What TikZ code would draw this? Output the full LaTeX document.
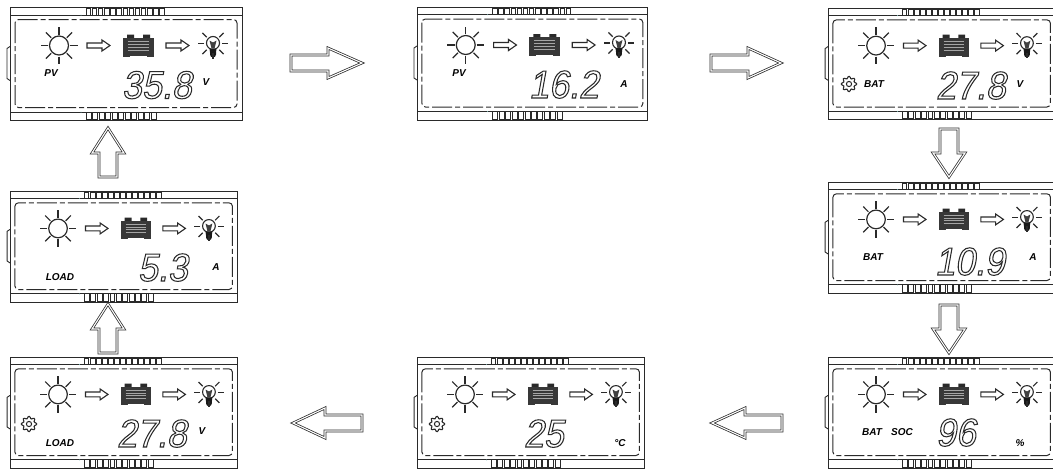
\documentclass[tikz,border=0pt]{standalone}
\usepackage{fontspec}
\setmainfont{Liberation Sans}
\newfontfamily\segfont[FakeSlant=0.18,FakeStretch=0.92]{Liberation Sans}
\definecolor{ink}{HTML}{2A2A2A}
\tikzset{
  inkline/.style={draw=ink,line width=0.9pt},
  bezel/.style={draw=ink,line width=1pt,rounded corners=3.5pt,dash pattern=on 20pt off 3pt on 5pt off 3pt},
  lab/.style={inner sep=0pt,text=black,font=\fontsize{10}{10}\selectfont\bfseries\itshape},
  digit/.style={inner sep=0pt,anchor=base east,text=ink},
  bigarrow/.style={draw=ink,line width=0.75pt,double=white,double distance=1.1pt,miter limit=10}
}
\newcommand{\outl}[1]{\special{pdf:code 1 Tr 1.05 w}{\fontsize{39}{40}\selectfont\segfont #1}\special{pdf:code 0 Tr 1 w}}
\newcommand{\lcd}[6]{%
 \begin{scope}[shift={(#2,#3)}]
 \begin{scope}[xscale=#4,yscale=#5]
  \draw[inkline] (0,0) rectangle (232,113);
  \draw[inkline] (0,7.7) -- (232,7.7) (0,104.5) -- (232,104.5);
  \draw[inkline] (0,39) -- (-3,41) -- (-3,71) -- (0,73);
  \draw[bezel] (5,12) rectangle (227,100);
  \foreach \i in {0,...,12}{\draw[inkline,line width=0.8pt] ({76+6.15*\i},7.7) -- ({76+6.15*\i},1) -- ({80.5+6.15*\i},1) -- ({80.5+6.15*\i},7.7);}
  \foreach \i in {0,...,10}{\draw[inkline,line width=0.8pt] ({76+6.5*\i},104.5) -- ({76+6.5*\i},112) -- ({81+6.5*\i},112) -- ({81+6.5*\i},104.5);}
  % sun
  \draw[ink,line width=1.2pt] (49,38) circle [radius=9.5];
  \foreach \a in {0,45,...,315}{\draw[ink,line width=1.2pt] (49,38) ++(\a:11) -- ++(\a:7.5);}
  % flow arrows
  \draw[ink,line width=1.1pt,fill=white] (77,35.5) -- (92,35.5) -- (92,32.5) -- (100,38) -- (92,43.5) -- (92,40.5) -- (77,40.5) -- cycle;
  \draw[ink,line width=1.1pt,fill=white] (156,35.5) -- (171,35.5) -- (171,32.5) -- (179,38) -- (171,43.5) -- (171,40.5) -- (156,40.5) -- cycle;
  % battery
  \fill[ink] (117,27) rectangle (124,31) (133,27) rectangle (140,31);
  \fill[black!78] (113,30) rectangle (144,49);
  \foreach \v in {33.5,36.5,39.5,42.5}{\draw[black!35,line width=0.9pt] (118,\v) -- (139,\v);}
  \draw[white,line width=1pt] (120,48.7) -- (137,48.7);
  % bulb
  \draw[ink,line width=1.1pt] (203,35.5) circle [radius=6.5];
  \fill[black!90] (199.5,41) -- (206.5,41) -- (206,45) -- (206,47) arc [start angle=0,end angle=180,radius=3] -- (200,45) -- cycle;
  \fill[black!75] (199.5,33) -- (203,35) -- (206.5,33) -- (204.5,41) -- (201.5,41) -- cycle;
  \foreach \a in {0,45,90,135,180,225,315}{\draw[ink,line width=1.2pt] (203,36) ++(\a:9) -- ++(\a:6);}
  \fill[teal!50] (71,7.7) circle [radius=0.5] (71,104.5) circle [radius=0.5];
 \end{scope}
 #6
 \end{scope}}
\newcommand{\gear}[2]{%
 \draw[ink,line width=1.1pt] plot[domain=0:352,samples=45,smooth cycle] ({#1+(6.6+1.1*cos(8*\x))*cos(\x)},{#2+(6.6+1.1*cos(8*\x))*sin(\x)});
 \draw[ink,line width=1pt] (#1,#2) circle [radius=2.6];}
\newcommand{\blockarrow}[7]{% x y rot len head shaft halfhead
 \begin{scope}[shift={(#1,#2)},rotate=#3]
  \draw[bigarrow] (0,-#6) -- (#5,-#6) -- (#5,-#7) -- (#4,0) -- (#5,#7) -- (#5,#6) -- (0,#6) -- cycle;
 \end{scope}}
\begin{document}
\begin{tikzpicture}[x=1pt,y=-1pt]
\useasboundingbox (0,0) rectangle (1053,469);
\clip (0,0) rectangle (1053,469);
\fill[white] (0,0) rectangle (1053,469);
% panels
\lcd{a}{10}{7.5}{1}{1}{%
  \node[lab] (a1) at (41,66) {PV};
  \node[lab] (a2) at (196,75) {V};
  \node[digit] (a3) at (182,91) {\outl{35.8}};}
\lcd{b}{417}{7}{0.995}{1}{%
  \node[lab] (b1) at (42,66) {PV};
  \node[lab] (b2) at (207,77) {A};
  \node[digit] (b3) at (182,91) {\outl{16.2}};}
\lcd{c}{828}{8}{0.98}{0.99}{%
  \gear{21}{76}
  \node[lab] (c1) at (46,76) {BAT};
  \node[lab] (c2) at (192,76) {V};
  \node[digit] (c3) at (178,91) {\outl{27.8}};}
\lcd{d}{828}{182}{0.98}{0.985}{%
  \node[lab] (d1) at (45,75) {BAT};
  \node[lab] (d2) at (205,75) {A};
  \node[digit] (d3) at (177,93) {\outl{10.9}};}
\lcd{e}{828}{357}{0.98}{0.985}{%
  \node[lab] (e1) at (44,75) {BAT};
  \node[lab] (e2) at (74,75) {SOC};
  \node[lab] (e3) at (192,86) {\%};
  \node[digit] (e4) at (148,89) {\outl{96}};}
\lcd{f}{417}{357}{0.98}{0.985}{%
  \gear{20}{67}
  \node[lab] (f1) at (203,86) {°C};
  \node[digit] (f2) at (147,90) {\outl{25}};}
\lcd{g}{10}{357}{0.98}{0.985}{%
  \gear{19}{67}
  \node[lab] (g1) at (50,86) {LOAD};
  \node[lab] (g2) at (192,74) {V};
  \node[digit] (g3) at (177,90) {\outl{27.8}};}
\lcd{h}{10}{191}{0.98}{0.985}{%
  \node[lab] (h1) at (50,86) {LOAD};
  \node[lab] (h2) at (206,76) {A};
  \node[digit] (h3) at (178,90) {\outl{5.3}};}
% block arrows
\blockarrow{291}{63}{0}{71}{37}{8}{15}
\blockarrow{711}{63}{0}{70}{37}{8}{15}
\blockarrow{949}{129}{-90}{48}{24}{9}{16}
\blockarrow{949}{305}{-90}{48}{24}{9}{16}
\blockarrow{782}{423}{180}{70}{37}{8}{15}
\blockarrow{362}{423}{180}{69}{37}{8}{15}
\blockarrow{108}{353}{90}{49}{24}{9}{16}
\blockarrow{108}{177}{90}{49}{24}{9}{16}
\end{tikzpicture}
\end{document}
